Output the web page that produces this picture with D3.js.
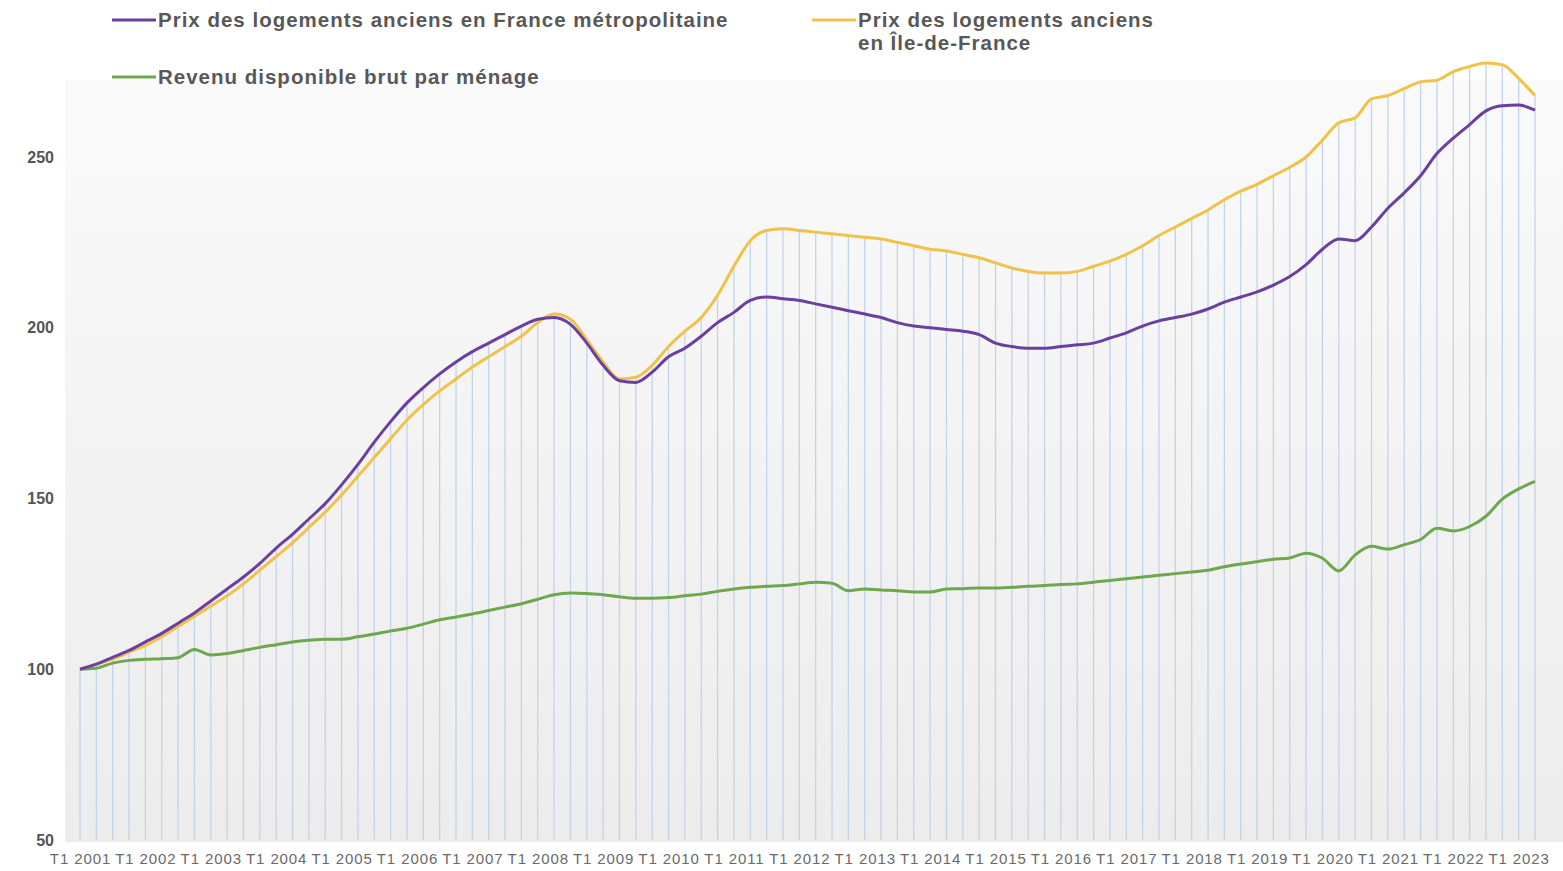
<!DOCTYPE html>
<html>
<head>
<meta charset="utf-8">
<script src="https://cdn.jsdelivr.net/npm/d3@7"></script>
<style>
  body { margin: 0; background: #fff; }
  text { font-family: "Liberation Sans", Arial, sans-serif; }
</style>
</head>
<body>
<div id="chart-area"></div>
<script>
// Data (index base 100 = T1 2001), quarterly
let years = d3.range(2001, 2024)
let quarters = []
years.forEach((yr) => {
  ['T1', 'T2', 'T3', 'T4'].forEach((q) => {
    if (quarters.length < 90) quarters.push(q + ' ' + yr)
  })
})

let prixFrance = [
  100, 101.5, 103.5, 105.5,   108, 110.5, 113.5, 116.5,   120, 123.5, 127, 131,
  135.5, 139.5, 144, 148.5,   154, 160, 166.5, 172.5,     178, 182.5, 186.5, 190,
  193, 195.5, 198, 200.5,     202.5, 203, 201, 195.5,     189, 184.5, 184, 187,
  191.5, 194, 197.5, 201.5,   204.5, 208, 209, 208.5,     208, 207, 206, 205,
  204, 203, 201.5, 200.5,     200, 199.5, 199, 198,       195.5, 194.5, 194, 194,
  194.5, 195, 195.5, 197,     198.5, 200.5, 202, 203,     204, 205.5, 207.5, 209,
  210.5, 212.5, 215, 218.5,   223, 226, 225.5, 229.5,     235, 239.5, 244.5, 251,
  255.5, 259.5, 263.5, 265,   265.2, 263.7
]

let prixIdf = [
  100, 101.5, 103, 105,       107, 109.5, 112.5, 115.5,   118.5, 121.5, 125, 129,
  133, 137, 141.5, 146,       151, 156.5, 162, 167.5,     173, 177.5, 181.5, 185,
  188.5, 191.5, 194.5, 197.5, 201.5, 204, 202.5, 196.5,   190, 185, 185.5, 189,
  194.5, 199, 203, 209.5,     218, 225.5, 228.5, 229,     228.5, 228, 227.5, 227,
  226.5, 226, 225, 224,       223, 222.5, 221.5, 220.5,   219, 217.5, 216.5, 216,
  216, 216.5, 218, 219.5,     221.5, 224, 227, 229.5,     232, 234.5, 237.5, 240,
  242, 244.5, 247, 250,       255, 260, 261.5, 267,       268, 270, 272, 272.5,
  275, 276.5, 277.5, 277,     273, 268
]

let revenu = [
  100, 100.3, 101.8, 102.6,   102.9, 103.1, 103.4, 105.8, 104.2, 104.6, 105.5, 106.4,
  107.2, 108, 108.5, 108.8,   108.8, 109.5, 110.3, 111.2, 112, 113.2, 114.5, 115.3,
  116.2, 117.2, 118.2, 119.2, 120.5, 121.8, 122.3, 122.2, 121.8, 121.2, 120.8, 120.8,
  121, 121.5, 122, 122.8,     123.5, 124, 124.3, 124.5,   125, 125.5, 125.2, 123,
  123.5, 123.2, 123, 122.6,   122.6, 123.5, 123.6, 123.8, 123.8, 124, 124.3, 124.5,
  124.8, 125, 125.5, 126,     126.5, 127, 127.5, 128,     128.5, 129, 130, 130.8,
  131.5, 132.2, 132.6, 134,   132.5, 128.8, 133.5, 136,   135.2, 136.5, 138, 141.3,
  140.5, 141.8, 144.8, 149.8, 152.8, 155
]

let yTicks = [50, 100, 150, 200, 250]

let series = [
  { name: 'France', values: prixFrance, color: '#6b3fa0' },
  { name: 'IdF', values: prixIdf, color: '#f1c24a' },
  { name: 'Revenu', values: revenu, color: '#6ea84e' }
]

let width = 1563
let height = 871

let svg = d3.select('#chart-area').append('svg')
  .attr('width', width)
  .attr('height', height)

// Scales
let x = d3.scalePoint().domain(quarters).range([80, 1535])
let y = d3.scaleLinear().domain([50, 250]).range([840, 157])

// plot background (light grey gradient)
let defs = svg.append('defs')
let grad = defs.append('linearGradient')
  .attr('id', 'bg')
  .attr('x1', 0).attr('y1', 0).attr('x2', 0).attr('y2', 1)
grad.append('stop').attr('offset', '0%').attr('stop-color', '#fafafa')
grad.append('stop').attr('offset', '100%').attr('stop-color', '#ececec')

svg.append('rect')
  .attr('x', 65)
  .attr('y', 80)
  .attr('width', width - 65)
  .attr('height', y(50) - 80 + 2)
  .attr('fill', 'url(#bg)')

// vertical drop lines for every quarter
svg.append('g')
  .selectAll('line')
  .data(quarters)
  .enter().append('line')
    .attr('x1', (q) => x(q))
    .attr('x2', (q) => x(q))
    .attr('y1', y(50))
    .attr('y2', (q, i) => y(d3.max(series, (s) => s.values[i])))
    .attr('stroke', '#c3d4e9')
    .attr('stroke-width', 1.3)

// Axes
let xAxisCall = d3.axisBottom(x)
  .tickValues(quarters.filter((q) => q.startsWith('T1')))
  .tickSize(0)
  .tickPadding(13)
let yAxisCall = d3.axisLeft(y)
  .tickValues(yTicks)
  .tickSize(0)
  .tickPadding(6)

let xAxis = svg.append('g')
  .attr('transform', 'translate(0, ' + y(50) + ')')
  .call(xAxisCall)
xAxis.select('.domain').remove()
xAxis.selectAll('text')
  .attr('fill', '#6a6a6a')
  .style('font-size', '15px')
  .style('letter-spacing', '0.9px')

let yAxis = svg.append('g')
  .attr('transform', 'translate(60, 0)')
  .call(yAxisCall)
yAxis.select('.domain').remove()
yAxis.selectAll('text')
  .attr('fill', '#555')
  .style('font-size', '16px')
  .style('font-weight', 'bold')

// Lines
let line = d3.line()
  .x((d, i) => x(quarters[i]))
  .y((d) => y(d))
  .curve(d3.curveMonotoneX)

series.slice().reverse().forEach((s) => {
  svg.append('path')
    .attr('fill', 'none')
    .attr('stroke', s.color)
    .attr('stroke-width', 3)
    .attr('stroke-linejoin', 'round')
    .attr('d', line(s.values))
})

// Legend
let legend = [
  { lines: ['Prix des logements anciens en France métropolitaine'], color: '#6b3fa0', x: 112, y: 20 },
  { lines: ['Prix des logements anciens', 'en Île-de-France'], color: '#f1c24a', x: 812, y: 20 },
  { lines: ['Revenu disponible brut par ménage'], color: '#6ea84e', x: 112, y: 77 }
]

legend.forEach((l) => {
  svg.append('line')
    .attr('x1', l.x).attr('x2', l.x + 44)
    .attr('y1', l.y).attr('y2', l.y)
    .attr('stroke', l.color)
    .attr('stroke-width', 3)
  let t = svg.append('text')
    .attr('x', l.x + 46)
    .attr('y', l.y + 7)
    .attr('fill', '#585858')
    .style('font-size', '20.5px')
    .style('font-weight', 'bold')
    .style('letter-spacing', '1px')
  l.lines.forEach((str, k) => {
    t.append('tspan')
      .attr('x', l.x + 46)
      .attr('dy', k === 0 ? 0 : 23)
      .text(str)
  })
})
</script>
</body>
</html>
